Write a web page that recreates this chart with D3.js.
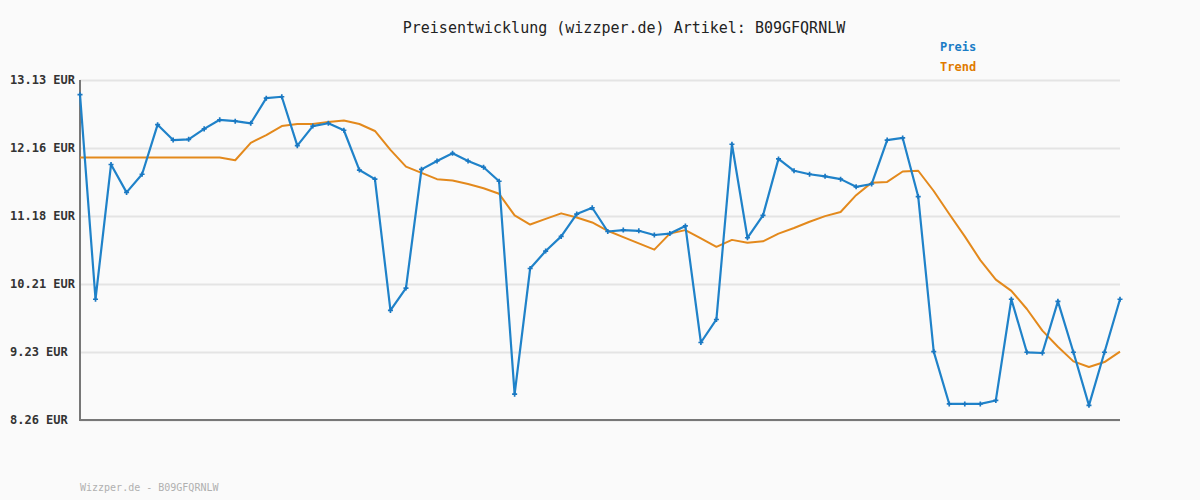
<!DOCTYPE html>
<html>
<head>
<meta charset="utf-8">
<script src="https://cdn.jsdelivr.net/npm/d3@7/dist/d3.min.js"></script>
<style>
  html, body { margin: 0; padding: 0; background: #fafafa; }
  svg { display: block; }
</style>
</head>
<body>
<svg id="chart" width="1200" height="500"></svg>
<script>
const titleText = "Preisentwicklung (wizzper.de) Artikel: B09GFQRNLW";
const footerText = "Wizzper.de - B09GFQRNLW";
const seriesNames = ["Preis", "Trend"];
const tickValues = [13.13, 12.156, 11.182, 10.208, 9.234, 8.26];
const tickLabels = ["13.13 EUR", "12.16 EUR", "11.18 EUR", "10.21 EUR", "9.23 EUR", "8.26 EUR"];
const preis = [12.92, 9.99, 11.92, 11.52, 11.78, 12.49, 12.27, 12.28, 12.43, 12.56,
  12.54, 12.51, 12.87, 12.89, 12.19, 12.47, 12.51, 12.41, 11.84, 11.71,
  9.83, 10.15, 11.85, 11.97, 12.08, 11.97, 11.88, 11.68, 8.63, 10.43,
  10.68, 10.89, 11.21, 11.30, 10.96, 10.98, 10.97, 10.91, 10.93, 11.04,
  9.37, 9.70, 12.21, 10.87, 11.19, 12.00, 11.83, 11.78, 11.75, 11.71,
  11.60, 11.64, 12.27, 12.30, 11.46, 9.24, 8.49, 8.49, 8.49, 8.54,
  9.99, 9.23, 9.22, 9.96, 9.23, 8.47, 9.23, 9.99];
const trend = [12.02, 12.02, 12.02, 12.02, 12.02, 12.02, 12.02, 12.02, 12.02, 12.02,
  11.98, 12.23, 12.34, 12.47, 12.50, 12.50, 12.53, 12.55, 12.50, 12.40,
  12.13, 11.89, 11.80, 11.71, 11.69, 11.64, 11.58, 11.50, 11.19, 11.06,
  11.14, 11.22, 11.16, 11.09, 10.97, 10.88, 10.79, 10.70, 10.93, 10.98,
  10.86, 10.74, 10.84, 10.80, 10.82, 10.93, 11.01, 11.10, 11.18, 11.24,
  11.48, 11.66, 11.67, 11.82, 11.83, 11.54, 11.21, 10.89, 10.55, 10.27,
  10.11, 9.85, 9.54, 9.31, 9.10, 9.02, 9.09, 9.24];

(function () {
const svg = d3.select("#chart");
const W = 1200, H = 500;
const mLeft = 80, mRight = 1120, mTop = 80, mBottom = 420;
const blue = "#1f82c9", orange = "#e3891c";
const mono = "'DejaVu Sans Mono', 'Liberation Mono', monospace";

svg.append("rect").attr("width", W).attr("height", H).attr("fill", "#fafafa");

const x = d3.scaleLinear().domain([0, preis.length - 1]).range([mLeft, mRight]);
const y = d3.scaleLinear().domain([8.26, 13.13]).range([mBottom, mTop]);

// gridlines
const grid = svg.append("g").attr("transform", `translate(${mLeft},0)`)
  .call(d3.axisLeft(y).tickValues(tickValues).tickSize(-(mRight - mLeft)).tickFormat(""));
grid.select(".domain").remove();
grid.selectAll(".tick line").attr("stroke", "#e4e4e4").attr("stroke-width", 2);

// tick labels
svg.append("g").selectAll("text").data(tickValues).join("text")
  .attr("x", 10).attr("y", d => y(d)).attr("dy", "0.35em")
  .attr("font-family", mono).attr("font-size", 12).attr("font-weight", "bold")
  .attr("fill", "#333").text((d, i) => tickLabels[i]);

// axes lines
svg.append("line").attr("x1", mLeft).attr("x2", mLeft).attr("y1", mTop).attr("y2", mBottom + 1)
  .attr("stroke", "#777").attr("stroke-width", 2);
svg.append("line").attr("x1", mLeft - 1).attr("x2", mRight).attr("y1", mBottom).attr("y2", mBottom)
  .attr("stroke", "#777").attr("stroke-width", 2);

const line = d3.line().x((d, i) => x(i)).y(d => y(d));

svg.append("path").datum(trend).attr("d", line)
  .attr("fill", "none").attr("stroke", orange).attr("stroke-width", 2).attr("stroke-linejoin", "round");
svg.append("path").datum(preis).attr("d", line)
  .attr("fill", "none").attr("stroke", blue).attr("stroke-width", 2.2).attr("stroke-linejoin", "round");

const sym = d3.symbol().type(d3.symbolCross).size(14);
svg.append("g").selectAll("path").data(preis).join("path")
  .attr("transform", (d, i) => `translate(${x(i)},${y(d)})`)
  .attr("d", sym).attr("fill", "#1a78c2");

// title
svg.append("text").attr("x", 624).attr("y", 33).attr("text-anchor", "middle")
  .attr("font-family", mono).attr("font-size", 15).attr("fill", "#222").text(titleText);

// legend
svg.append("text").attr("x", 940).attr("y", 47).attr("dy", "0.35em")
  .attr("font-family", mono).attr("font-size", 12).attr("font-weight", "bold")
  .attr("fill", "#1a7cc6").text(seriesNames[0]);
svg.append("text").attr("x", 940).attr("y", 67).attr("dy", "0.35em")
  .attr("font-family", mono).attr("font-size", 12).attr("font-weight", "bold")
  .attr("fill", "#e07a00").text(seriesNames[1]);

// footer
svg.append("text").attr("x", 80).attr("y", 487).attr("dy", "0.35em")
  .attr("font-family", mono).attr("font-size", 10).attr("fill", "#b0b0b0").text(footerText);
})();
</script>
</body>
</html>
